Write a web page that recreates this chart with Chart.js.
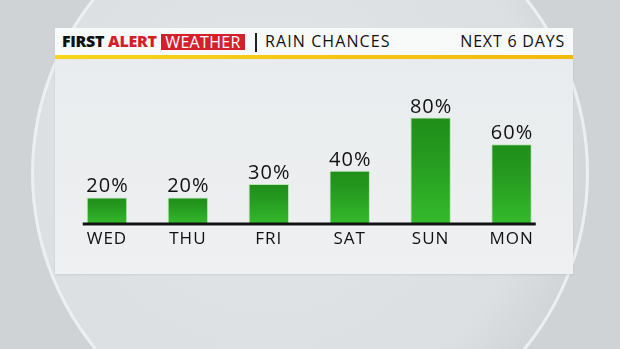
<!DOCTYPE html>
<html>
<head>
<meta charset="utf-8">
<script src="https://cdn.jsdelivr.net/npm/chart.js@4"></script>
<style>
  html, body { margin: 0; padding: 0; }
  body {
    width: 620px; height: 349px; overflow: hidden; position: relative;
    background: #d0d3d5;
    font-family: "Open Sans", sans-serif;
  }
  .circle {
    position: absolute; left: 31px; top: -106px; width: 558px; height: 558px;
    border-radius: 50%; box-sizing: border-box;
    border: 3px solid rgba(238,242,244,0.9);
    background: radial-gradient(circle at 42% 45%, #e3e6e8 0%, #dcdfe1 62%, #c6c9cb 90%, #d9dcde 100%);
  }
  .header {
    position: absolute; left: 55px; top: 28px; width: 518px; height: 27px;
    background: #f8f9f9;
  }
  .yellow {
    position: absolute; left: 55px; top: 55px; width: 518px; height: 4px;
    background: linear-gradient(to right, #f6d51c, #f5b80e);
  }
  .panel {
    position: absolute; left: 55px; top: 59px; width: 518px; height: 215px;
    background: linear-gradient(to bottom, #e9ecee, #eef0f1);
    box-shadow: 0 1px 2px rgba(0,0,0,0.08);
  }
  .hdr { position: absolute; top: 28px; height: 27px; line-height: 27px; color: #111; white-space: nowrap; }
  .brand { left: 62px; font-weight: 800; font-size: 16px; letter-spacing: -0.3px; }
  .brand .red { color: #d41f28; }
  .wx {
    position: absolute; left: 161px; top: 34px; width: 84px; height: 16px; line-height: 16px;
    background: #d4202a; color: #fff; font-size: 16px; text-align: center; letter-spacing: 0.3px;
  }
  .sep { position: absolute; left: 255px; top: 33px; width: 2px; height: 19px; background: #222; }
  .title { left: 265px; font-size: 16px; letter-spacing: 1.1px; }
  .days { right: 55px; font-size: 16px; letter-spacing: 0.8px; }
  canvas { position: absolute; left: 55px; top: 59px; }
</style>
</head>
<body>
<div class="circle"></div>
<div class="header"></div>
<div class="yellow"></div>
<div class="panel"></div>
<div class="hdr brand">FIRST <span class="red">ALERT</span></div>
<div class="wx">WEATHER</div>
<div class="sep"></div>
<div class="hdr title">RAIN CHANCES</div>
<div class="hdr days">NEXT 6 DAYS</div>
<canvas id="rainChart" width="518" height="215"></canvas>
<script>
const days = ["WED", "THU", "FRI", "SAT", "SUN", "MON"];
const rainChance = [20, 20, 30, 40, 80, 60];

// per-bar gradient: darker at top, brighter at the base
function barGradient(context) {
  const chart = context.chart;
  const yScale = chart.scales.y;
  if (!chart.chartArea || !yScale) return '#2aa823';
  const top = yScale.getPixelForValue(context.parsed.y);
  const bottom = yScale.getPixelForValue(0);
  const g = chart.ctx.createLinearGradient(0, top, 0, bottom);
  g.addColorStop(0, '#1f8e19');
  g.addColorStop(0.35, '#25991f');
  g.addColorStop(1, '#34ba2c');
  return g;
}

const barLabels = {
  id: 'barLabels',
  beforeDraw(chart) {
    // wider lettering for the day ticks
    chart.ctx.letterSpacing = '1px';
  },
  afterDatasetsDraw(chart) {
    const ctx = chart.ctx;
    const meta = chart.getDatasetMeta(0);
    ctx.save();
    // axis line under the bars
    const first = meta.data[0], last = meta.data[meta.data.length - 1];
    const base = chart.scales.y.getPixelForValue(0);
    ctx.fillStyle = 'rgba(255,255,255,0.8)';
    ctx.fillRect(first.x - first.width / 2 - 4, base + 1, (last.x - first.x) + first.width + 8, 1.5);
    ctx.fillStyle = '#111';
    ctx.fillRect(first.x - first.width / 2 - 4, base - 1.5, (last.x - first.x) + first.width + 8, 3);
    // value labels
    ctx.font = '500 20px "Open Sans"';
    ctx.letterSpacing = '1px';
    ctx.textAlign = 'center';
    ctx.textBaseline = 'alphabetic';
    ctx.fillStyle = '#111';
    meta.data.forEach((bar, i) => {
      ctx.fillText(rainChance[i] + '%', bar.x + 0.5, bar.y - 5);
    });
    ctx.restore();
  }
};

new Chart(document.getElementById('rainChart'), {
  type: 'bar',
  data: {
    labels: days,
    datasets: [{
      data: rainChance,
      backgroundColor: barGradient,
      borderColor: 'rgba(150,225,140,0.6)',
      borderWidth: 1,
      categoryPercentage: 1,
      barPercentage: 0.5,
    }],
  },
  options: {
    responsive: false,
    animation: false,
    events: [],
    layout: { padding: { left: 11.5, right: 21, top: 32, bottom: 0 } },
    plugins: {
      legend: { display: false },
      tooltip: { enabled: false },
    },
    scales: {
      x: {
        grid: { display: false, drawTicks: false },
        border: { display: false },
        ticks: {
          color: '#111',
          padding: 5,
          font: { family: '"Open Sans"', size: 17, weight: 500 },
        },
        afterFit(scale) { scale.height = 50; },
      },
      y: {
        display: false,
        min: 0,
        max: 100,
      },
    },
  },
  plugins: [barLabels],
});
</script>
</body>
</html>
